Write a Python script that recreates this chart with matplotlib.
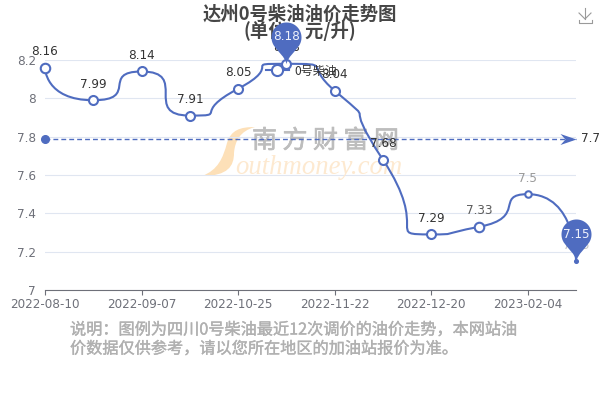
import matplotlib
matplotlib.use("Agg")
import matplotlib.pyplot as plt
import matplotlib.patheffects as pe
import numpy as np
from matplotlib.lines import Line2D
from matplotlib.patches import PathPatch
from matplotlib.path import Path

plt.rcParams["font.family"] = ["DejaVu Sans", "Noto Sans CJK SC"]
CJK = ["Noto Sans CJK SC", "DejaVu Sans"]

dates = ["2022-08-10", "", "2022-09-07", "", "2022-10-25", "", "2022-11-22", "", "2022-12-20", "", "2023-02-04", ""]
prices = [8.16, 7.99, 8.14, 7.91, 8.05, 8.18, 8.04, 7.68, 7.29, 7.33, 7.5, 7.15]
y_ticks = [7, 7.2, 7.4, 7.6, 7.8, 8, 8.2]
y_tick_labels = ["7", "7.2", "7.4", "7.6", "7.8", "8", "8.2"]
series_name = "0号柴油"

BLUE = "#4f6cc0"
W, H = 600, 400
label_colors = ["#333333"] * 9 + ["#5c5c5c", "#9a9a9a", "#c4c4c4"]
marker_sizes = [9.5, 9, 9, 9, 9, 9, 9, 9, 9, 9.5, 6.5, 3]


def smooth_path(ax, xs, ys):
    # same idea as the echarts smooth line, worked out in pixels
    pts = ax.transData.transform(np.column_stack([xs, ys]))
    n = len(pts)
    verts = [pts[0]]
    codes = [Path.MOVETO]
    cp0 = pts[0]
    for i in range(1, n):
        p = pts[i]
        if i == n - 1:
            cp1 = p
            nxt = p
        else:
            prev, nxt = pts[i - 1], pts[i + 1]
            v = nxt - prev
            len_prev = np.hypot(*(p - prev))
            len_next = np.hypot(*(nxt - p))
            ratio = len_next / (len_next + len_prev)
            nc = p + v * ratio
            nc = np.minimum(nc, np.maximum(nxt, p))
            nc = np.maximum(nc, np.minimum(nxt, p))
            v = nc - p
            cp1 = p - v * len_prev / len_next
            cp1 = np.minimum(cp1, np.maximum(prev, p))
            cp1 = np.maximum(cp1, np.minimum(prev, p))
            v = p - cp1
            nc = p + v * len_next / len_prev
        verts += [cp0, cp1, p]
        codes += [Path.CURVE4] * 3
        cp0 = nc if i < n - 1 else p
    return Path(ax.transData.inverted().transform(np.array(verts)), codes)


def pin_marker():
    # tip at the origin, round head on top
    r = 15.0
    cy = 27.0
    start = -32
    a = np.radians(np.linspace(start, 180 - start, 40))
    head = np.column_stack([r * np.cos(a), cy + r * np.sin(a)])
    t = np.radians(start)
    tan = np.array([np.sin(t), -np.cos(t)]) * 6
    right_cp = head[0] + tan
    left_cp = head[-1] + tan * [-1, 1]
    verts = [[0, 0], [0.8, 7], right_cp, head[0]]
    codes = [Path.MOVETO] + [Path.CURVE4] * 3
    for h in head[1:]:
        verts.append(h)
        codes.append(Path.LINETO)
    verts += [left_cp, [-0.8, 7], [0, 0]]
    codes += [Path.CURVE4] * 3
    return Path(np.array(verts), codes)


fig = plt.figure(figsize=(6, 4), dpi=100)
ax = fig.add_axes([45 / W, 1 - 290 / H, 531 / W, 230 / H])
x = np.arange(len(prices))
ax.set_xlim(0, len(prices) - 1)
ax.set_ylim(7, 8.2)

# watermark, pixel placed like an image
swoosh = Path(
    [(202, H - 176), (218, H - 170), (223, H - 158), (227, H - 143),
     (231, H - 130), (240, H - 127), (255, H - 127),
     (240, H - 131), (235, H - 141), (234, H - 153),
     (234, H - 166), (228, H - 176), (202, H - 176)],
    [Path.MOVETO] + [Path.CURVE4] * 12,
)
ax.add_patch(PathPatch(swoosh, fc="#fde0b8", ec="none", transform=None, zorder=0.5, clip_on=False))
for i, ch in enumerate("南方财富网"):
    ax.text((264.5 + i * 30.5) / W, 1 - 141 / H, ch, transform=fig.transFigure, family=CJK, fontsize=18,
            color="#bdbdbd", ha="center", va="center", zorder=0.6,
            path_effects=[pe.withStroke(linewidth=0.5, foreground="#bdbdbd")])
ax.text(235 / W, 1 - 167 / H, "outhmoney.com", transform=fig.transFigure, family="Liberation Serif",
        style="italic", fontsize=19.3, color="#fde9d0", ha="left", va="center", zorder=0.6)

ax.set_yticks(y_ticks)
ax.set_yticklabels(y_tick_labels, fontsize=8.64, color="#6e7079")
ax.set_xticks(x[::2])
ax.set_xticklabels(dates[::2], fontsize=8.64, color="#6e7079")
ax.tick_params(axis="y", length=0, pad=6.5)
ax.tick_params(axis="x", length=3.5, width=0.8, color="#6e7079", pad=2.5)
ax.grid(axis="y", color="#e0e6f1", linewidth=0.8)
ax.set_axisbelow(True)
for side in ["top", "right", "left"]:
    ax.spines[side].set_visible(False)
ax.spines["bottom"].set_color("#6e7079")
ax.spines["bottom"].set_linewidth(0.8)

ax.add_patch(PathPatch(smooth_path(ax, x, prices), fc="none", ec=BLUE, lw=1.5, zorder=3, clip_on=False))
for xi, p, ms in zip(x, prices, marker_sizes):
    fc = BLUE if ms < 4 else "white"
    ax.plot(xi, p, "o", ms=ms * 0.72, mfc=fc, mec=BLUE, mew=1.5, zorder=4, clip_on=False)
for xi, p, c in zip(x, prices, label_colors):
    ax.annotate(f"{p:g}", (xi, p), xytext=(0, 11.5), textcoords="offset points", ha="center", va="center",
                fontsize=8.64, color=c, zorder=5, annotation_clip=False)

# average line
mean_price = round(float(np.mean(prices)), 2)
ax.plot([0, len(prices) - 1], [mean_price, mean_price], color=BLUE, lw=1, ls=(0, (3.5, 2.2)), zorder=3, clip_on=False)
ax.plot(0, mean_price, "o", ms=5.5, color=BLUE, zorder=4, clip_on=False)
arrow = Path([(-16, 5.5), (0, 0), (-16, -5.5), (-11, 0), (-16, 5.5)],
             [Path.MOVETO, Path.LINETO, Path.LINETO, Path.LINETO, Path.CLOSEPOLY])
ax.plot(len(prices) - 1, mean_price, marker=arrow, ms=2 * 16 * 0.72, color=BLUE, mew=0, zorder=4, clip_on=False)
ax.annotate(f"{mean_price:g}", (len(prices) - 1, mean_price), xytext=(3.6, 0), textcoords="offset points",
            ha="left", va="center", fontsize=8.64, color="#333333", annotation_clip=False)

# max and min pins
pin = pin_marker()
for i in [int(np.argmax(prices)), int(np.argmin(prices))]:
    ax.plot(x[i], prices[i], marker=pin, ms=2 * 42 * 0.72, color=BLUE, mew=0, zorder=6, clip_on=False)
    ax.annotate(f"{prices[i]:g}", (x[i], prices[i]), xytext=(0, 27 * 0.72), textcoords="offset points", ha="center",
                va="center", fontsize=8.64, color="#eef1fb", zorder=7, annotation_clip=False)

# legend
handle = Line2D([0], [0], color=BLUE, lw=1.5, marker="o", ms=8, mfc="white", mec=BLUE, mew=1.5)
leg = ax.legend([handle], [series_name], loc="center left", bbox_to_anchor=(255 / W, 1 - 71 / H),
                bbox_transform=fig.transFigure, frameon=False, handlelength=1.9,
                handletextpad=0.5, borderpad=0.4, labelcolor="#333333", prop={"family": CJK, "size": 8.64})
leg.set_zorder(5)

# titles and note
ax.text(0.5, 1 - 14 / H, "达州0号柴油油价走势图", transform=fig.transFigure, family=CJK, fontsize=13.2,
        fontweight="bold", color="#464646", ha="center", va="center", zorder=2, clip_on=False)
ax.text(0.5, 1 - 31 / H, "(单位：元/升)", transform=fig.transFigure, family=CJK, fontsize=13.2,
        fontweight="bold", color="#464646", ha="center", va="center", zorder=2, clip_on=False)
note_lines = ["说明：图例为四川0号柴油最近12次调价的油价走势，本网站油", "价数据仅供参考，请以您所在地区的加油站报价为准。"]
for line, yp in zip(note_lines, [330, 349]):
    fig.text(70 / W, 1 - yp / H, line, family=CJK, fontsize=11.64, color="#b0b0b0", ha="left", va="center",
             path_effects=[pe.withStroke(linewidth=0.25, foreground="#b0b0b0")])

# download icon
fig.add_artist(Line2D([585 / W, 585 / W], [1 - 8 / H, 1 - 19 / H], color="#9a9a9a", lw=0.8))
fig.add_artist(Line2D([579 / W, 585 / W, 591 / W], [1 - 13 / H, 1 - 19 / H, 1 - 13 / H], color="#9a9a9a", lw=0.8))
fig.add_artist(Line2D([579 / W, 579 / W, 592 / W, 592 / W], [1 - 20 / H, 1 - 23 / H, 1 - 23 / H, 1 - 20 / H],
                      color="#9a9a9a", lw=0.8))

fig.savefig("out.png", dpi=100)
